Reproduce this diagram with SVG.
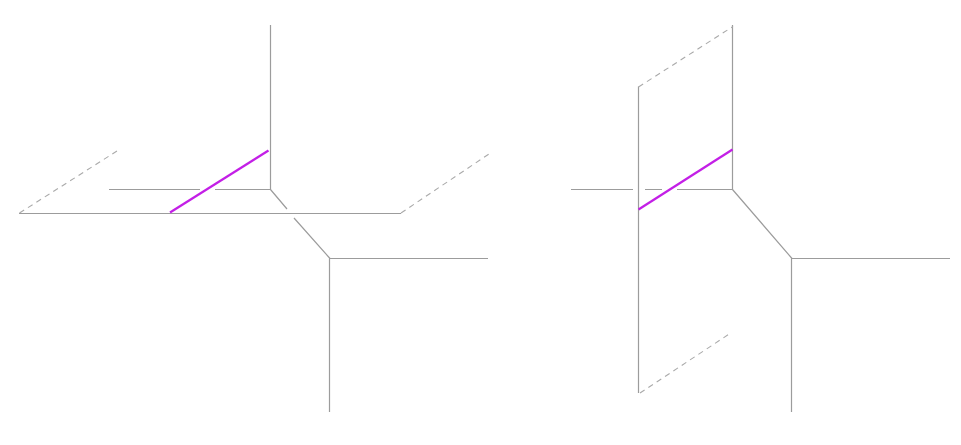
<svg xmlns="http://www.w3.org/2000/svg" width="961" height="445" viewBox="0 0 961 445">
<style>
.s{fill:none;stroke:#9c9c9c;stroke-width:1.2}
.d{fill:none;stroke:#aaa;stroke-width:1.1;stroke-dasharray:5.500 4.500}
.m{fill:none;stroke:#c31fe6;stroke-width:2.200}
</style>
<rect width="961" height="445" fill="#fff"/>
<g id="connectors">
<g id="left">
<path class="s" d="M270.500 25V189.500M109 189.500H200M215 189.500H270.500M19 213.500H401M270.500 189.500L287 209M294 218L330 258.500M330 258.500H488M329.500 258.500V412"/>
<path class="d" d="M19.500 213L117 151M401 213L489 154"/>
<path class="m" d="M170 212.500L268.500 150.500"/>
</g>
<g id="right">
<path class="s" d="M732.500 25V189.500M571 189.500H633M645 189.500H662M677 189.500H732.500M638.500 86.500V393M732.500 189.500L792 258.500M792 258.500H950M791.500 258.500V412"/>
<path class="d" d="M638.500 87L733 26.500M640 393L730 333.500"/>
<path class="m" d="M638.500 209.500L732.500 149.500"/>
</g>
</g>
</svg>
